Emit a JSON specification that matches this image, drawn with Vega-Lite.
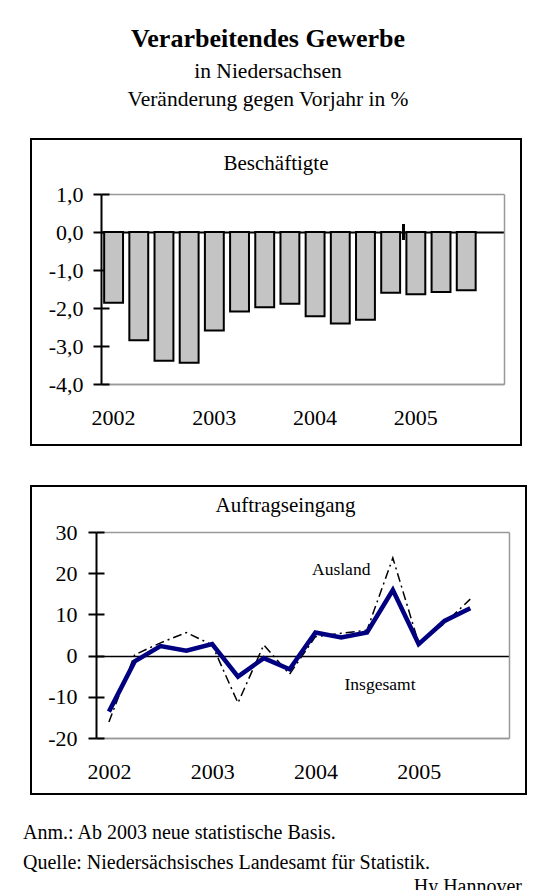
{
  "$schema": "https://vega.github.io/schema/vega-lite/v6.json",
  "padding": {"left": 23, "top": 26, "right": 0, "bottom": 0},
  "background": "white",
  "datasets": {
    "beschaeftigte": [
      {"q": "2002Q1", "v": -1.86}, {"q": "2002Q2", "v": -2.85}, {"q": "2002Q3", "v": -3.39}, {"q": "2002Q4", "v": -3.44},
      {"q": "2003Q1", "v": -2.59}, {"q": "2003Q2", "v": -2.09}, {"q": "2003Q3", "v": -1.98}, {"q": "2003Q4", "v": -1.89},
      {"q": "2004Q1", "v": -2.22}, {"q": "2004Q2", "v": -2.41}, {"q": "2004Q3", "v": -2.31}, {"q": "2004Q4", "v": -1.60},
      {"q": "2005Q1", "v": -1.64}, {"q": "2005Q2", "v": -1.58}, {"q": "2005Q3", "v": -1.53}
    ],
    "auftrag": [
      {"q": "2002Q1", "series": "Insgesamt", "v": -13.6}, {"q": "2002Q2", "series": "Insgesamt", "v": -1.4},
      {"q": "2002Q3", "series": "Insgesamt", "v": 2.3}, {"q": "2002Q4", "series": "Insgesamt", "v": 1.2},
      {"q": "2003Q1", "series": "Insgesamt", "v": 2.8}, {"q": "2003Q2", "series": "Insgesamt", "v": -5.1},
      {"q": "2003Q3", "series": "Insgesamt", "v": -0.6}, {"q": "2003Q4", "series": "Insgesamt", "v": -3.3},
      {"q": "2004Q1", "series": "Insgesamt", "v": 5.6}, {"q": "2004Q2", "series": "Insgesamt", "v": 4.4},
      {"q": "2004Q3", "series": "Insgesamt", "v": 5.6}, {"q": "2004Q4", "series": "Insgesamt", "v": 15.9},
      {"q": "2005Q1", "series": "Insgesamt", "v": 2.8}, {"q": "2005Q2", "series": "Insgesamt", "v": 8.4},
      {"q": "2005Q3", "series": "Insgesamt", "v": 11.5},
      {"q": "2002Q1", "series": "Ausland", "v": -16.1}, {"q": "2002Q2", "series": "Ausland", "v": 0.2},
      {"q": "2002Q3", "series": "Ausland", "v": 3.1}, {"q": "2002Q4", "series": "Ausland", "v": 5.6},
      {"q": "2003Q1", "series": "Ausland", "v": 2.6}, {"q": "2003Q2", "series": "Ausland", "v": -11.5},
      {"q": "2003Q3", "series": "Ausland", "v": 2.6}, {"q": "2003Q4", "series": "Ausland", "v": -4.5},
      {"q": "2004Q1", "series": "Ausland", "v": 4.6}, {"q": "2004Q2", "series": "Ausland", "v": 5.4},
      {"q": "2004Q3", "series": "Ausland", "v": 6.2}, {"q": "2004Q4", "series": "Ausland", "v": 23.7},
      {"q": "2005Q1", "series": "Ausland", "v": 3.0}, {"q": "2005Q2", "series": "Ausland", "v": 7.8},
      {"q": "2005Q3", "series": "Ausland", "v": 13.7}
    ],
    "labels": [
      {"label": "Ausland", "q": "2004Q2", "v": 20.8},
      {"label": "Insgesamt", "q": "2004Q3", "v": -7.1}
    ]
  },
  "title": {
    "text": "Verarbeitendes Gewerbe",
    "subtitle": ["in Niedersachsen", "Veränderung gegen Vorjahr in %"],
    "fontSize": 26, "fontWeight": "bold", "color": "black",
    "subtitleFontSize": 21.5, "subtitleColor": "black", "subtitleLineHeight": 27.5, "subtitlePadding": 9,
    "anchor": "middle", "dx": -7, "offset": 28
  },
  "vconcat": [
    {
      "title": {"text": "Hy Hannover", "orient": "bottom", "anchor": "end", "fontSize": 20, "fontWeight": "normal", "offset": 4, "dx": -5},
      "vconcat": [
        {
          "title": {"text": ["Anm.: Ab 2003 neue statistische Basis.", "Quelle: Niedersächsisches Landesamt für Statistik."], "orient": "bottom", "anchor": "start", "fontSize": 20, "fontWeight": "normal", "lineHeight": 30, "offset": 28, "dx": -7},
          "spacing": 39,
          "vconcat": [
            {
              "width": 490, "height": 306,
              "title": {"text": "Beschäftigte", "fontSize": 21, "fontWeight": "normal", "offset": -35, "anchor": "middle"},
              "data": {"name": "beschaeftigte"},
              "layer": [
                {
                  "mark": {"type": "bar", "fill": "#c4c4c4", "stroke": "black", "strokeWidth": 2},
                  "encoding": {
                    "x": {
                      "field": "q", "type": "nominal", "sort": null,
                      "scale": {"domain": ["2002Q1","2002Q2","2002Q3","2002Q4","2003Q1","2003Q2","2003Q3","2003Q4","2004Q1","2004Q2","2004Q3","2004Q4","2005Q1","2005Q2","2005Q3","2005Q4"], "range": [70, 473], "paddingInner": 0.25, "paddingOuter": 0.125},
                      "axis": {"orient": "bottom", "offset": -61, "title": null, "ticks": false, "tickSize": 0, "labelPadding": 23, "labelFontSize": 22, "labelAngle": 0, "labelColor": "black", "labelOverlap": false,
                        "labelExpr": "substring('' + datum.label, 4) === 'Q1' ? substring('' + datum.label, 0, 4) : ''",
                        "domainColor": "#999999", "domainWidth": 1.5, "grid": false}
                    },
                    "y": {
                      "field": "v", "type": "quantitative",
                      "scale": {"domain": [-4, 1], "range": [245, 55], "nice": false, "zero": false},
                      "axis": {"orient": "left", "offset": -70, "title": null, "values": [-4, -3, -2, -1, 0, 1],
                        "labelExpr": "datum.value + ',0'", "labelFontSize": 22, "labelPadding": 10, "labelColor": "black",
                        "tickSize": 8, "tickWidth": 2, "tickColor": "black", "domainColor": "black", "domainWidth": 2,
                        "grid": true,
                        "gridColor": {"condition": {"test": "datum.value === 0", "value": "black"}, "value": "#999999"},
                        "gridWidth": {"condition": {"test": "datum.value === 0", "value": 2}, "value": 1.5},
                        "gridOpacity": {"condition": {"test": "datum.value === 0 || datum.value === 1 || datum.value === -4", "value": 1}, "value": 0}}
                    }
                  }
                },
                {
                  "mark": {"type": "rule", "stroke": "black", "strokeWidth": 1.5, "xOffset": -3},
                  "encoding": {
                    "x": {"datum": "2005Q1", "bandPosition": 0, "axis": null},
                    "y": {"datum": 0.2, "type": "quantitative",
                      "axis": {"orient": "left", "offset": -473, "title": null, "values": [-4, 1], "labels": false, "ticks": false, "domain": true, "domainColor": "#999999", "domainWidth": 1.5, "grid": false}},
                    "y2": {"datum": -0.2}
                  }
                },
                {
                  "mark": {"type": "rule", "stroke": "black", "strokeWidth": 1.5, "xOffset": -3},
                  "encoding": {
                    "x": {"datum": "2005Q1", "bandPosition": 0, "axis": null},
                    "y": {"datum": 0.2, "type": "quantitative",
                      "axis": {"orient": "right", "offset": -420, "title": null, "values": [-4, -3, -2, -1, 0, 1], "labels": false, "domain": false, "grid": false, "tickSize": 8, "tickWidth": 2, "tickColor": "black"}},
                    "y2": {"datum": -0.2}
                  }
                }
              ],
              "resolve": {"axis": {"x": "independent", "y": "independent"}}
            },
            {
              "width": 495, "height": 308,
              "title": {"text": "Auftragseingang", "fontSize": 21, "fontWeight": "normal", "offset": -30, "anchor": "middle", "dx": 7},
              "layer": [
                {
                  "data": {"name": "auftrag"},
                  "transform": [{"filter": "datum.series === 'Ausland'"}],
                  "mark": {"type": "line", "stroke": "black", "strokeWidth": 1.5, "strokeDash": [9, 4, 2, 4]},
                  "encoding": {
                    "x": {
                      "field": "q", "type": "nominal", "sort": null,
                      "scale": {"domain": ["2002Q1","2002Q2","2002Q3","2002Q4","2003Q1","2003Q2","2003Q3","2003Q4","2004Q1","2004Q2","2004Q3","2004Q4","2005Q1","2005Q2","2005Q3","2005Q4"], "range": [65, 478], "paddingInner": 0, "paddingOuter": 0},
                      "axis": {"orient": "bottom", "offset": -56, "title": null, "ticks": false, "tickSize": 0, "labelPadding": 23, "labelFontSize": 22, "labelAngle": 0, "labelColor": "black", "labelOverlap": false,
                        "labelExpr": "substring('' + datum.label, 4) === 'Q1' ? substring('' + datum.label, 0, 4) : ''",
                        "domainColor": "#999999", "domainWidth": 1.5, "grid": false}
                    },
                    "y": {
                      "field": "v", "type": "quantitative",
                      "scale": {"domain": [-20, 30], "range": [252, 46], "nice": false, "zero": false},
                      "axis": {"orient": "left", "offset": -65, "title": null, "values": [-20, -10, 0, 10, 20, 30],
                        "labelExpr": "'' + datum.value", "labelFontSize": 22, "labelPadding": 11, "labelColor": "black",
                        "tickSize": 8, "tickWidth": 2, "tickColor": "black", "domainColor": "black", "domainWidth": 2,
                        "grid": true,
                        "gridColor": {"condition": {"test": "datum.value === 0", "value": "black"}, "value": "#999999"},
                        "gridWidth": 1.5,
                        "gridOpacity": {"condition": {"test": "datum.value === 0 || datum.value === 30 || datum.value === -20", "value": 1}, "value": 0}}
                    }
                  }
                },
                {
                  "data": {"name": "auftrag"},
                  "transform": [{"filter": "datum.series === 'Insgesamt'"}],
                  "mark": {"type": "line", "stroke": "#000080", "strokeWidth": 4.5, "strokeJoin": "miter"},
                  "encoding": {
                    "x": {"field": "q", "type": "nominal", "sort": null, "axis": null},
                    "y": {"field": "v", "type": "quantitative",
                      "axis": {"orient": "left", "offset": -478, "title": null, "values": [-20, 30], "labels": false, "ticks": false, "domain": true, "domainColor": "#999999", "domainWidth": 1.5, "grid": false}}
                  }
                },
                {
                  "data": {"name": "labels"},
                  "transform": [{"filter": "datum.label === 'Ausland'"}],
                  "mark": {"type": "text", "fontSize": 17.5, "color": "black", "align": "center", "baseline": "middle"},
                  "encoding": {
                    "x": {"field": "q", "type": "nominal", "sort": null, "axis": null},
                    "y": {"field": "v", "type": "quantitative",
                      "axis": {"orient": "right", "offset": -430, "title": null, "values": [-20, -10, 0, 10, 20, 30], "labels": false, "domain": false, "grid": false, "tickSize": 8, "tickWidth": 2, "tickColor": "black"}},
                    "text": {"field": "label"}
                  }
                },
                {
                  "data": {"name": "labels"},
                  "transform": [{"filter": "datum.label === 'Insgesamt'"}],
                  "mark": {"type": "text", "fontSize": 17.5, "color": "black", "align": "center", "baseline": "middle", "dx": 13},
                  "encoding": {
                    "x": {"field": "q", "type": "nominal", "sort": null, "axis": null},
                    "y": {"field": "v", "type": "quantitative", "axis": null},
                    "text": {"field": "label"}
                  }
                }
              ],
              "resolve": {"axis": {"x": "independent", "y": "independent"}}
            }
          ]
        }
      ]
    }
  ],
  "config": {
    "font": "Liberation Serif",
    "view": {"stroke": "black", "strokeWidth": 2},
    "title": {"color": "black", "fontWeight": "normal"},
    "axis": {"labelColor": "black", "labelFont": "Liberation Serif"}
  }
}
